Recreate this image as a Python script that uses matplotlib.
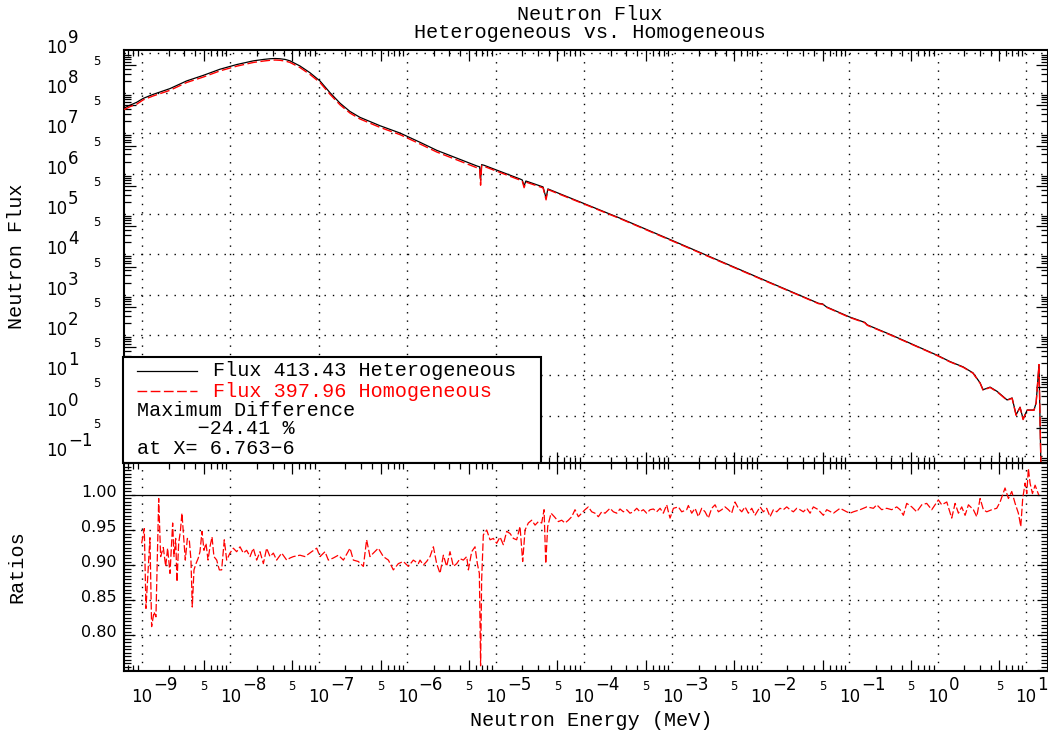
import numpy as np
import matplotlib
matplotlib.use("Agg")
import matplotlib.pyplot as plt
from matplotlib.ticker import LogLocator, MultipleLocator, NullFormatter
from matplotlib.patches import Rectangle

MONO = ["Liberation Mono", "DejaVu Sans Mono"]
SANS = ["DejaVu Sans"]

# Text of the chart
title_lines = ["Neutron Flux", "Heterogeneous vs. Homogeneous"]
x_label = "Neutron Energy (MeV)"
flux_label = "Neutron Flux"
ratio_label = "Ratios"
het_name = "Flux 413.43 Heterogeneous"
hom_name = "Flux 397.96 Homogeneous"
diff_lines = ["Maximum Difference", "     \u221224.41 %", "at X= 6.763\u22126"]

# Flux spectra (energy in MeV)
flux_energy = [6.3e-10, 7.31e-10, 8.71e-10, 1.035e-9, 1.34e-9, 2.07e-9, 3.2e-9, 4.94e-9,
               7.62e-9, 1.18e-8, 1.82e-8, 2.4e-8, 2.81e-8, 3.2e-8, 3.64e-8, 4.2e-8,
               4.72e-8, 6.12e-8, 7.94e-8,
               1.03e-7, 1.34e-7, 1.74e-7, 2.25e-7, 2.92e-7, 4.92e-7, 8.3e-7, 1.4e-6,
               2.16e-6, 6.17e-6, 6.6e-6, 6.76e-6,
               6.95e-6, 7.4e-6, 1.89e-5, 2.0e-5, 2.1e-5, 2.2e-5, 3.44e-5, 3.72e-5,
               3.9e-5, 9.75e-5, 2.55e-4, 1.0e-3, 1.0e-2, 4.5e-2, 5.0e-2, 5.5e-2,
               0.1, 0.15, 0.16, 0.3, 0.984, 1.38, 1.94, 2.51,
               3.02, 3.26, 3.92, 4.70, 6.10, 6.95, 7.71, 8.55,
               9.25, 10.3, 12.3, 13.0, 14.0, 14.8]
flux_het = [4.27e7, 5.0e7, 5.9e7, 7.4e7, 9.3e7, 1.29e8, 2.0e8, 2.75e8,
            3.9e8, 5.1e8, 6.3e8, 6.85e8, 7.1e8, 7.2e8, 7.1e8, 6.8e8,
            6.3e8, 4.7e8, 3.2e8,
            2.0e8, 1.02e8, 5.6e7, 3.5e7, 2.5e7, 1.55e7, 1.02e7, 6.0e6,
            3.8e6, 1.55e6, 1.48e6, 6.9e5,
            1.68e6, 1.62e6, 7.4e5, 7.0e5, 5.0e5, 6.6e5, 4.7e5, 2.5e5,
            4.2e5, 1.86e5, 7.9e4, 2.2e4, 2.5e3, 610, 590, 500,
            282, 205, 178, 100, 31.6, 21.9, 16.2, 11.5,
            6.5, 4.4, 5.1, 4.0, 2.45, 2.75, 1.05, 1.62,
            0.83, 1.38, 1.38, 2.1, 18.2, 0.03]
flux_hom = [3.9e7, 4.6e7, 5.3e7, 6.8e7, 8.5e7, 1.17e8, 1.83e8, 2.5e8,
            3.55e8, 4.65e8, 5.75e8, 6.25e8, 6.5e8, 6.6e8, 6.5e8, 6.2e8,
            5.75e8, 4.3e8, 2.9e8,
            1.83e8, 9.3e7, 5.1e7, 3.2e7, 2.28e7, 1.41e7, 9.3e6, 5.45e6,
            3.45e6, 1.4e6, 1.34e6, 5.2e5,
            1.58e6, 1.52e6, 6.95e5, 6.6e5, 4.5e5, 6.2e5, 4.45e5, 2.25e5,
            4.05e5, 1.81e5, 7.7e4, 2.14e4, 2.44e3, 598, 578, 490,
            275, 201, 174, 98, 31.0, 21.5, 15.9, 11.3,
            6.4, 4.3, 5.0, 3.9, 2.4, 2.7, 1.02, 1.6,
            0.80, 1.37, 1.36, 2.1, 18.5, 0.03]

# Ratio homogeneous / heterogeneous (log10 of energy in MeV)
ratio_log_e = [
    -9.004, -8.974, -8.955, -8.910, -8.891, -8.864, -8.842, -8.811, -8.789, -8.759,
    -8.732, -8.710, -8.683, -8.653, -8.638, -8.619, -8.604, -8.585, -8.566, -8.548,
    -8.525, -8.510, -8.487, -8.465, -8.446, -8.431, -8.412, -8.389, -8.363, -8.344,
    -8.321, -8.299, -8.276, -8.253, -8.231, -8.208, -8.186, -8.155, -8.125, -8.099,
    -8.069, -8.042, -8.005,
    -7.967, -7.929, -7.891, -7.854, -7.816, -7.778, -7.741, -7.703, -7.665, -7.627,
    -7.590, -7.552, -7.514, -7.477, -7.420, -7.363, -7.326, -7.288, -7.213, -7.156,
    -7.081, -7.024, -6.986, -6.930, -6.892, -6.836, -6.779, -6.722, -6.647, -6.609,
    -6.553, -6.496, -6.459, -6.421, -6.383, -6.327, -6.270, -6.213, -6.157, -6.100,
    -6.044, -5.987, -5.931, -5.874,
    -5.855, -5.817, -5.780, -5.742, -5.704, -5.667, -5.629, -5.591, -5.554, -5.516,
    -5.478, -5.440, -5.403, -5.365, -5.327, -5.308, -5.271, -5.233, -5.207, -5.184,
    -5.170, -5.158, -5.139, -5.101, -5.063, -5.026, -4.988, -4.950, -4.913, -4.875,
    -4.837, -4.799, -4.762, -4.724, -4.694, -4.667, -4.630, -4.592, -4.554, -4.516,
    -4.479, -4.452, -4.433, -4.411, -4.373, -4.336, -4.290, -4.253, -4.215, -4.177,
    -4.139, -4.102, -4.064, -4.026, -3.989, -3.951, -3.913, -3.876, -3.838, -3.800,
    -3.762, -3.706, -3.668, -3.630,
    -3.593, -3.555, -3.517, -3.480, -3.442, -3.404, -3.367, -3.329, -3.291, -3.253,
    -3.216, -3.178, -3.140, -3.103, -3.065, -3.046, -3.027, -2.989, -2.933, -2.895,
    -2.839, -2.820, -2.782, -2.744, -2.707, -2.669, -2.631, -2.594, -2.556, -2.518,
    -2.480, -2.443, -2.405, -2.367, -2.330, -2.292, -2.254, -2.216, -2.179, -2.141,
    -2.103, -2.066, -2.028, -2.009, -1.971, -1.934, -1.896, -1.858, -1.820, -1.783,
    -1.745, -1.707, -1.670, -1.632, -1.594, -1.557, -1.519, -1.481, -1.443, -1.406,
    -1.349,
    -1.330, -1.293, -1.255, -1.179, -1.104, -1.029, -0.991, -0.953, -0.878, -0.802,
    -0.727, -0.689, -0.633, -0.576, -0.520, -0.463, -0.425, -0.388, -0.350, -0.293,
    -0.237, -0.180, -0.124, -0.067, -0.029, 0.008, 0.046, 0.103, 0.159, 0.197,
    0.235, 0.272, 0.310, 0.348, 0.404, 0.442, 0.480, 0.517, 0.555, 0.612,
    0.668, 0.706, 0.762, 0.800, 0.838, 0.876, 0.913, 0.940, 0.962, 0.989,
    1.008, 1.026, 1.045, 1.072, 1.102, 1.128, 1.143]
ratio_hom = [
    0.931, 0.952, 0.838, 0.939, 0.812, 0.833, 0.826, 0.995, 0.912, 0.925,
    0.898, 0.924, 0.888, 0.960, 0.912, 0.938, 0.876, 0.931, 0.948, 0.974,
    0.933, 0.907, 0.938, 0.936, 0.907, 0.840, 0.893, 0.902, 0.910, 0.919,
    0.948, 0.921, 0.931, 0.907, 0.926, 0.940, 0.912, 0.907, 0.893, 0.893,
    0.936, 0.907, 0.917,
    0.924, 0.919, 0.926, 0.917, 0.921, 0.912, 0.924, 0.907, 0.919, 0.902,
    0.924, 0.912, 0.917, 0.907, 0.917, 0.907, 0.910, 0.912, 0.914, 0.912,
    0.919, 0.924, 0.912, 0.919, 0.907, 0.910, 0.914, 0.907, 0.924, 0.907,
    0.905, 0.898, 0.936, 0.912, 0.917, 0.924, 0.912, 0.907, 0.893, 0.902,
    0.905, 0.898, 0.907, 0.902,
    0.907, 0.900, 0.905, 0.912, 0.926, 0.902, 0.888, 0.914, 0.898, 0.919,
    0.898, 0.902, 0.909, 0.907, 0.912, 0.893, 0.919, 0.926, 0.902, 0.888,
    0.756, 0.879, 0.943, 0.950, 0.936, 0.938, 0.931, 0.940, 0.929, 0.948,
    0.945, 0.938, 0.936, 0.955, 0.905, 0.950, 0.960, 0.964, 0.957, 0.962,
    0.960, 0.979, 0.902, 0.955, 0.974, 0.969, 0.962, 0.964, 0.960, 0.964,
    0.969, 0.979, 0.969, 0.974, 0.979, 0.983, 0.976, 0.974, 0.969, 0.976,
    0.974, 0.981, 0.976, 0.974,
    0.980, 0.976, 0.979, 0.974, 0.976, 0.981, 0.976, 0.979, 0.974, 0.979,
    0.980, 0.976, 0.981, 0.974, 0.986, 0.976, 0.967, 0.981, 0.983, 0.976,
    0.979, 0.985, 0.974, 0.981, 0.969, 0.981, 0.976, 0.967, 0.981, 0.986,
    0.976, 0.979, 0.983, 0.979, 0.974, 0.990, 0.981, 0.976, 0.983, 0.974,
    0.981, 0.971, 0.979, 0.983, 0.976, 0.981, 0.969, 0.979, 0.976, 0.981,
    0.979, 0.983, 0.979, 0.976, 0.981, 0.979, 0.976, 0.981, 0.974, 0.983,
    0.979,
    0.976, 0.971, 0.979, 0.974, 0.981, 0.976, 0.974, 0.976, 0.979, 0.983,
    0.981, 0.986, 0.979, 0.981, 0.979, 0.983, 0.979, 0.971, 0.988, 0.983,
    0.976, 0.986, 0.988, 0.979, 0.986, 0.993, 0.986, 0.990, 0.967, 0.988,
    0.974, 0.983, 0.971, 0.986, 0.979, 0.969, 0.995, 0.979, 0.976, 0.979,
    0.981, 0.990, 1.010, 0.995, 1.005, 0.988, 0.974, 0.955, 0.995, 1.017,
    1.002, 1.038, 1.017, 1.002, 1.014, 1.005, 1.000]
ratio_het_energy = [7.7e-10, 14.0]
ratio_het = [1.0, 1.0]

# Axis decoration values
x_decades = list(range(-9, 2))
x_fives = list(range(-9, 1))
flux_decades = list(range(-1, 10))
flux_fives = list(range(-1, 9))
ratio_ticks = [1.00, 0.95, 0.90, 0.85, 0.80]

W, H = 1048, 734
PT = 0.72  # points per pixel at dpi 100


def px_box(left, top, right, bottom):
    return [left / W, 1 - bottom / H, (right - left) / W, (bottom - top) / H]


fig = plt.figure(figsize=(W / 100, H / 100), dpi=100, facecolor="white")
ax1 = fig.add_axes(px_box(124, 50, 1048, 463))
ax2 = fig.add_axes(px_box(124, 463, 1048, 671))

grid_style = dict(color="black", lw=1.0, ls=(0, (1, 5)), zorder=1)

for ax in (ax1, ax2):
    ax.set_xscale("log")
    ax.set_xlim(6.26e-10, 17.7)
    ax.xaxis.set_major_locator(LogLocator(10, subs=(5.0,), numticks=60))
    ax.xaxis.set_minor_locator(LogLocator(10, subs=(2, 3, 4, 6, 7, 8, 9), numticks=60))
    ax.xaxis.set_major_formatter(NullFormatter())
    ax.xaxis.set_minor_formatter(NullFormatter())
    ax.yaxis.set_major_formatter(NullFormatter())
    ax.yaxis.set_minor_formatter(NullFormatter())
    ax.tick_params(which="both", direction="in", top=True, right=True,
                   width=0.9, color="black")
    ax.tick_params(axis="x", which="major", length=8)
    ax.tick_params(axis="x", which="minor", length=4)
    for sp in ax.spines.values():
        sp.set_linewidth(1.5)
    for n in x_decades:
        ax.axvline(10.0 ** n, **grid_style)

# top panel: flux
ax1.set_yscale("log")
ax1.set_ylim(0.067, 1.17e9)
ax1.yaxis.set_major_locator(LogLocator(10, subs=(5.0,), numticks=60))
ax1.yaxis.set_minor_locator(LogLocator(10, subs=(2, 3, 4, 6, 7, 8, 9), numticks=60))
ax1.yaxis.set_major_formatter(NullFormatter())
ax1.yaxis.set_minor_formatter(NullFormatter())
ax1.tick_params(axis="y", which="major", length=8.5)
ax1.tick_params(axis="y", which="minor", length=5)
for n in flux_decades:
    ax1.axhline(10.0 ** n, **grid_style)

ax1.plot(flux_energy, flux_het, color="black", lw=0.9, zorder=3)
ax1.plot(flux_energy, flux_hom, color="red", lw=1.0, dashes=(7, 2.5), zorder=4)

# bottom panel: ratios
ax2.set_ylim(0.7486, 1.0457)
ax2.yaxis.set_major_locator(MultipleLocator(0.05))
ax2.yaxis.set_minor_locator(MultipleLocator(0.005))
ax2.yaxis.set_major_formatter(NullFormatter())
ax2.yaxis.set_minor_formatter(NullFormatter())
ax2.tick_params(axis="y", which="major", length=8)
ax2.tick_params(axis="y", which="minor", length=5)
for v in ratio_ticks[1:]:
    ax2.axhline(v, **grid_style)

ax2.plot(ratio_het_energy, ratio_het, color="black", lw=0.9, zorder=3)
ax2.plot(10.0 ** np.array(ratio_log_e), ratio_hom, color="red", lw=0.9,
         dashes=(6, 2), zorder=4)

# tick labels drawn by hand: 10 with a large exponent, small 5 between
xt = ax2.get_xaxis_transform()
for n in x_decades:
    ax2.annotate("10", xy=(10.0 ** n, 0), xycoords=xt, xytext=(0, -31 * PT),
                 textcoords="offset points", ha="center", va="baseline",
                 fontsize=12, family=SANS, annotation_clip=False)
    ax2.annotate(str(n).replace("-", "\u2212"), xy=(10.0 ** n, 0), xycoords=xt,
                 xytext=(11.5 * PT, -19 * PT), textcoords="offset points",
                 ha="left", va="baseline", fontsize=12, family=SANS,
                 annotation_clip=False)
for n in x_fives:
    ax2.annotate("5", xy=(5 * 10.0 ** n, 0), xycoords=xt, xytext=(0, -19 * PT),
                 textcoords="offset points", ha="center", va="baseline",
                 fontsize=8.5, family=SANS, annotation_clip=False)

yt = ax1.get_yaxis_transform()
for n in flux_decades:
    ax1.annotate("10", xy=(0, 10.0 ** n), xycoords=yt, xytext=(-57 * PT, 0),
                 textcoords="offset points", ha="right", va="baseline",
                 fontsize=12, family=SANS, annotation_clip=False)
    ax1.annotate(str(n).replace("-", "\u2212"), xy=(0, 10.0 ** n), xycoords=yt,
                 xytext=(-56 * PT, 10 * PT), textcoords="offset points",
                 ha="left", va="baseline", fontsize=12, family=SANS,
                 annotation_clip=False)
for n in flux_fives:
    ax1.annotate("5", xy=(0, 5 * 10.0 ** n), xycoords=yt, xytext=(-27 * PT, 0),
                 textcoords="offset points", ha="center", va="baseline",
                 fontsize=8.5, family=SANS, annotation_clip=False)

yt2 = ax2.get_yaxis_transform()
for v in ratio_ticks:
    ax2.annotate(f"{v:.2f}", xy=(0, v), xycoords=yt2, xytext=(-7 * PT, -2 * PT),
                 textcoords="offset points", ha="right", va="baseline",
                 fontsize=11.5, family=SANS, annotation_clip=False)

# axis titles and figure title
fig.text(591 / W, 1 - 720 / H, x_label, ha="center", va="center",
         fontsize=14.5, family=MONO)
fig.text(17 / W, 1 - 256 / H, flux_label, ha="center", va="center",
         rotation=90, fontsize=14.5, family=MONO)
fig.text(17 / W, 1 - 567 / H, ratio_label, ha="center", va="center",
         rotation=90, fontsize=14.5, family=MONO)
fig.text(590 / W, 1 - 15 / H, title_lines[0], ha="center", va="center",
         fontsize=14.5, family=MONO)
fig.text(590 / W, 1 - 32 / H, title_lines[1], ha="center", va="center",
         fontsize=14.5, family=MONO)

# legend box in the lower left of the flux panel
ta = ax1.transAxes
ax1.add_patch(Rectangle((-0.001, 0), 0.4524, 0.2567, transform=ta,
                        facecolor="white", edgecolor="black", lw=1.5,
                        zorder=6, clip_on=False))
ax1.plot([0.0141, 0.0790], [0.2228, 0.2228], transform=ta, color="black",
         lw=0.9, zorder=7, clip_on=False)
ax1.plot([0.0141, 0.0790], [0.1743, 0.1743], transform=ta, color="red",
         lw=1.0, dashes=(7, 2.5), zorder=7, clip_on=False)
ax1.text(0.0963, 0.2228, het_name, transform=ta, ha="left", va="center",
         fontsize=14.5, family=MONO, color="black", zorder=8)
ax1.text(0.0963, 0.1743, hom_name, transform=ta, ha="left", va="center",
         fontsize=14.5, family=MONO, color="red", zorder=8)
for line, yy in zip(diff_lines, [0.1283, 0.0847, 0.0363]):
    ax1.text(0.0141, yy, line, transform=ta, ha="left", va="center",
             fontsize=14.5, family=MONO, color="black", zorder=8)

fig.savefig("out.png", dpi=100, facecolor="white")
